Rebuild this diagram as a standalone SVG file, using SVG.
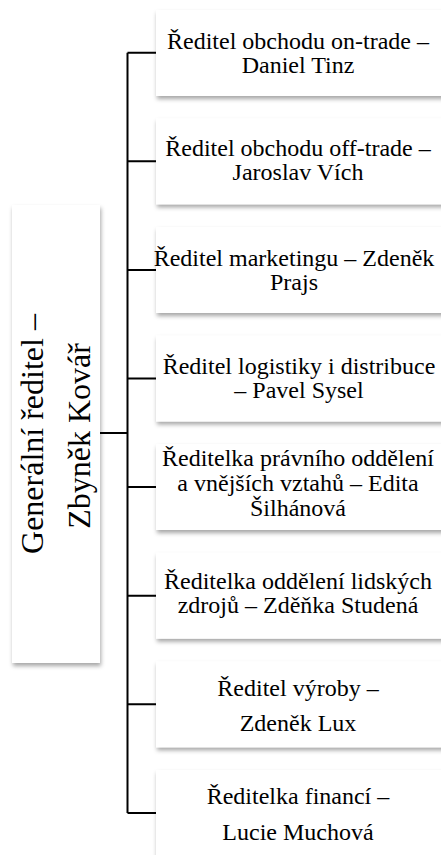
<svg xmlns="http://www.w3.org/2000/svg" width="441" height="855" viewBox="0 0 441 855">
<defs>
<filter id="sh" x="-10%" y="-10%" width="130%" height="130%">
<feDropShadow dx="1" dy="3" stdDeviation="2" flood-color="#000" flood-opacity="0.35"/>
</filter>
<style>
.box{fill:#fff;filter:url(#sh);}
.t{font-size:24px;fill:#000;text-anchor:middle;}
.tl{font-size:32px;fill:#000;text-anchor:middle;}
.c{stroke:#000;stroke-width:2;fill:none;}
</style>
</defs>
<rect width="441" height="855" fill="#fff"/>
<g id="connectors">
<path class="c" d="M127.5 52.7V813M100 433H127.5M127.5 52.7H156M127.5 161.3H156M127.5 269.9H156M127.5 378.5H156M127.5 487.1H156M127.5 595.7H156M127.5 704.3H156M127.5 812.9H156"/>
</g>
<g font-family="Liberation Serif, Times New Roman, DejaVu Serif, serif">
<g id="ceo">
<rect class="box" x="12" y="205" width="88" height="458"/>
<g transform="translate(43,434) rotate(-90)"><text class="tl" x="0" y="0">Generální ředitel –</text></g>
<g transform="translate(90,436) rotate(-90)"><text class="tl" x="0" y="0">Zbyněk Kovář</text></g>
</g>
<g id="n1">
<rect class="box" x="156" y="10" width="300" height="86"/>
<text class="t" x="298" y="49">Ředitel obchodu on-trade –</text>
<text class="t" x="298" y="73">Daniel Tinz</text>
</g>
<g id="n2">
<rect class="box" x="156" y="118.3" width="300" height="86"/>
<text class="t" x="298" y="156">Ředitel obchodu off-trade –</text>
<text class="t" x="298" y="180">Jaroslav Vích</text>
</g>
<g id="n3">
<rect class="box" x="156" y="227" width="300" height="86"/>
<text class="t" x="294" y="266">Ředitel marketingu – Zdeněk</text>
<text class="t" x="294" y="290">Prajs</text>
</g>
<g id="n4">
<rect class="box" x="156" y="335.5" width="300" height="86"/>
<text class="t" x="299" y="374">Ředitel logistiky i distribuce</text>
<text class="t" x="299" y="398">– Pavel Sysel</text>
</g>
<g id="n5">
<rect class="box" x="156" y="444" width="300" height="86"/>
<text class="t" x="298" y="466">Ředitelka právního oddělení</text>
<text class="t" x="298" y="491">a vnějších vztahů – Edita</text>
<text class="t" x="298" y="516">Šilhánová</text>
</g>
<g id="n6">
<rect class="box" x="156" y="552.7" width="300" height="86"/>
<text class="t" x="298" y="589">Ředitelka oddělení lidských</text>
<text class="t" x="298" y="613">zdrojů – Zděňka Studená</text>
</g>
<g id="n7">
<rect class="box" x="156" y="661.3" width="300" height="86"/>
<text class="t" x="298" y="696">Ředitel výroby –</text>
<text class="t" x="298" y="731">Zdeněk Lux</text>
</g>
<g id="n8">
<rect class="box" x="156" y="770" width="300" height="95"/>
<text class="t" x="298" y="804">Ředitelka financí –</text>
<text class="t" x="298" y="840">Lucie Muchová</text>
</g>
</g>
</svg>
